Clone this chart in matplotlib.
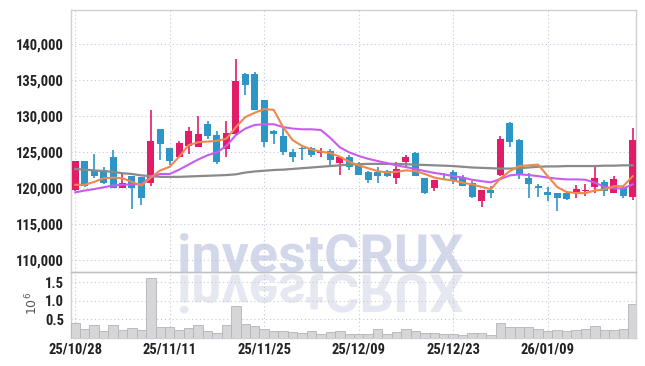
import numpy as np
import matplotlib
matplotlib.use("Agg")
import matplotlib.pyplot as plt
from matplotlib.textpath import TextPath
from matplotlib.patches import PathPatch
from matplotlib.font_manager import FontProperties, fontManager
from matplotlib.transforms import Affine2D, IdentityTransform

# daily candles, 25/10/28 .. 26/01/22
opens = [119800, 123800, 122600, 122600, 124400, 120100, 121700, 121600, 120800, 128300,
         125600, 124400, 125900, 125800, 128900, 127400, 125400, 127500, 135900, 135900,
         132300, 128000, 127200, 125000, 125600, 125600, 124900, 125200, 123500, 124400,
         123400, 122300, 122300, 122400, 121500, 123600, 124900, 121400, 120100, 122000,
         122300, 121600, 120700, 118200, 119800, 121900, 129100, 126700, 121500, 120300,
         119500, 119300, 119300, 119550, 119700, 120200, 120900, 119400, 120000, 118800]
highs = [123800, 123800, 124800, 123000, 125300, 122200, 121700, 121600, 130900, 128300,
         125600, 126600, 128500, 130100, 129300, 127900, 129300, 137900, 136000, 136100,
         132300, 128100, 128600, 125400, 125800, 125700, 125600, 125400, 124400, 124700,
         123600, 122400, 123000, 122550, 123600, 124700, 125100, 121400, 121200, 122200,
         122500, 121850, 121000, 119800, 120300, 127300, 129200, 126800, 122200, 120550,
         120200, 119300, 119500, 120450, 120550, 123000, 121100, 121700, 120200, 128400]
lows = [119700, 120200, 121400, 120600, 120000, 120000, 117100, 117700, 120400, 124000,
        123200, 124300, 124800, 125700, 126900, 123400, 124400, 127400, 132900, 130900,
        125800, 126200, 124600, 123600, 124000, 124300, 124300, 123300, 121800, 122500,
        121800, 120800, 120800, 121600, 120600, 122800, 121700, 119200, 119700, 121200,
        120650, 120300, 118700, 117400, 118600, 121700, 125700, 121300, 118600, 118800,
        118300, 116900, 118400, 118700, 118900, 119400, 119000, 119300, 118600, 118400]
closes = [123800, 120400, 121700, 120800, 120100, 120700, 120100, 118700, 126600, 126100,
          123800, 126300, 127900, 127500, 127200, 123600, 127700, 134900, 134400, 130900,
          126500, 127500, 125100, 124300, 125400, 124700, 125200, 124000, 124400, 122900,
          121900, 121200, 121700, 121700, 122700, 124300, 121700, 119300, 121200, 121800,
          121000, 120400, 118800, 119800, 119400, 126900, 126500, 121900, 120600, 120000,
          119100, 118600, 118500, 119950, 119800, 121400, 119700, 121300, 119000, 126700]
# volume in millions of shares
volumes = [0.41, 0.23, 0.35, 0.19, 0.35, 0.22, 0.26, 0.22, 1.62, 0.29,
           0.29, 0.22, 0.26, 0.35, 0.19, 0.13, 0.35, 0.86, 0.38, 0.32,
           0.24, 0.19, 0.19, 0.16, 0.14, 0.19, 0.11, 0.16, 0.19, 0.10,
           0.10, 0.10, 0.23, 0.10, 0.15, 0.23, 0.18, 0.13, 0.13, 0.10,
           0.10, 0.07, 0.13, 0.13, 0.07, 0.40, 0.29, 0.31, 0.31, 0.23,
           0.18, 0.21, 0.18, 0.21, 0.23, 0.32, 0.21, 0.21, 0.23, 0.91]
# moving averages
ma_short = [120500, 120500, 120900, 121400, 121500, 121400, 120900, 120400, 121500, 122500,
            123000, 124400, 126000, 126400, 126500, 126600, 126900, 128500, 129900, 130500,
            131000, 130900, 128500, 126700, 125900, 125400, 125100, 124900, 124400, 123700,
            123200, 122800, 122400, 122200, 122300, 122500, 122400, 122000, 121500, 121250,
            121100, 120800, 120550, 120200, 119900, 121400, 122400, 123100, 123200, 123300,
            121700, 120200, 119500, 119350, 119350, 119700, 119850, 120300, 120300, 121700]
ma_mid = [119450, 119700, 119900, 120150, 120400, 120500, 120550, 120600, 121600, 122000,
          122000, 122600, 123300, 124000, 124600, 125000, 125900, 127400, 128300, 128800,
          128900, 128900, 128500, 128300, 128200, 128200, 128100, 127000, 125700, 125000,
          124500, 124100, 123800, 123500, 123200, 122950, 122700, 122400, 122150, 121950,
          121700, 121500, 121200, 121000, 120850, 121300, 121800, 121950, 121850, 121700,
          121500, 121350, 121250, 121250, 121200, 120800, 120200, 120000, 120000, 120550]
ma_long = [122700, 122600, 122500, 122400, 122300, 122100, 122000, 121800, 121700, 121600,
           121600, 121600, 121650, 121700, 121750, 121800, 121850, 121950, 122200, 122350,
           122450, 122550, 122600, 122700, 122800, 122900, 123000, 123100, 123200, 123300,
           123350, 123400, 123400, 123400, 123400, 123350, 123300, 123250, 123200, 123150,
           123100, 123000, 122900, 122850, 122800, 122750, 122750, 122800, 122900, 123000,
           123050, 123050, 123100, 123100, 123100, 123100, 123150, 123150, 123200, 123200]

tick_pos = [0, 10, 20, 30, 40, 50]
tick_labels = ["25/10/28", "25/11/11", "25/11/25", "25/12/09", "25/12/23", "26/01/09"]
price_ticks = [110000, 115000, 120000, 125000, 130000, 135000, 140000]
vol_ticks = [0.5, 1.0, 1.5]

RED = "#e11d6a"
BLUE = "#2e95c7"
GRID = "#c4c8dc"
SPINE = "#cfcfd4"

# narrowest installed family for the tick labels
names = {f.name for f in fontManager.ttflist}
LABEL_FONT = [n for n in ["Roboto Condensed", "Open Sans Condensed", "Roboto"] if n in names]
LABEL_FONT = LABEL_FONT[:1] + ["DejaVu Sans"]
LABEL_SIZE = 10.5 if LABEL_FONT[0] != "Roboto" else 10

fig = plt.figure(figsize=(6.45, 3.66), dpi=100, facecolor="white")
ax = fig.add_axes([71 / 645, 1 - 272 / 366, 565 / 645, 262 / 366])
vax = fig.add_axes([71 / 645, 1 - 338 / 366, 565 / 645, 66 / 366], sharex=ax)
for a in (ax, vax):
    a.set_facecolor("none")
    for s in a.spines.values():
        s.set_color(SPINE)
        s.set_linewidth(1.0)
    a.grid(True, color=GRID, linestyle=(0, (1, 2.5)), linewidth=0.8)
    a.set_axisbelow(True)
    a.tick_params(length=0, colors="#222222")

x = np.arange(len(opens))
o = np.array(opens)
c = np.array(closes)
cols = np.where(c >= o, RED, BLUE)

ax.vlines(x, lows, highs, colors=cols, linewidth=1.2, zorder=3)
ax.bar(x, np.maximum(np.abs(c - o), 80), bottom=np.minimum(o, c), width=0.74,
       color=cols, linewidth=0, zorder=4)
ax.plot(x, ma_long, color="#8a8a8a", linewidth=1.6, zorder=5)
ax.plot(x, ma_mid, color="#c95cf0", linewidth=1.5, zorder=5)
ax.plot(x, ma_short, color="#f0884c", linewidth=1.5, zorder=6)

ax.set_ylim(108400, 144750)
ax.set_xlim(-0.45, 59.35)
ax.set_yticks(price_ticks)
ax.set_yticklabels([f"{p:,}" for p in price_ticks])
ax.tick_params(axis="x", labelbottom=False)

vax.bar(x, volumes, width=1.0, color="#d6d6d8", edgecolor="#b4b4b8", linewidth=0.6, zorder=3)
vax.set_ylim(0, 1.78)
vax.set_yticks(vol_ticks)
vax.set_yticklabels([f"{v:.1f}" for v in vol_ticks])
vax.set_xticks(tick_pos)
vax.set_xticklabels(tick_labels)
vax.spines["top"].set_color("#c0c0c4")

for lab in ax.get_yticklabels() + vax.get_yticklabels() + vax.get_xticklabels():
    lab.set_family(LABEL_FONT)
    lab.set_fontweight("bold")
    lab.set_fontsize(LABEL_SIZE)
ax.tick_params(axis="y", pad=5)
vax.tick_params(axis="y", pad=5)
vax.tick_params(axis="x", pad=3)

fig.text(32 / 645, 1 - 303 / 366, r"$10^6$", rotation=90, ha="center", va="center",
         fontsize=9, color="#555555")

# watermark with its reflection
tp = TextPath((0, 0), "investCRUX", size=50, prop=FontProperties(family="Roboto", weight="bold"))
bb = tp.get_extents()
sx = (463 - 180) / bb.width
sy = (272 - 232.5) / bb.height
base = 366 - 272
top = Affine2D().translate(-bb.x0, 0).scale(sx, sy).translate(180, base)
mirror = Affine2D().translate(-bb.x0, 0).scale(sx, -sy).translate(180, 366 - 274.5)
fig.add_artist(PathPatch(top.transform_path(tp), transform=IdentityTransform(),
                         facecolor="#d2d8ea", edgecolor="none", zorder=-1))
fig.add_artist(PathPatch(mirror.transform_path(tp), transform=IdentityTransform(),
                         facecolor="#e6e8f1", edgecolor="none", zorder=-1))

fig.savefig("out.png", dpi=100, facecolor="white")
